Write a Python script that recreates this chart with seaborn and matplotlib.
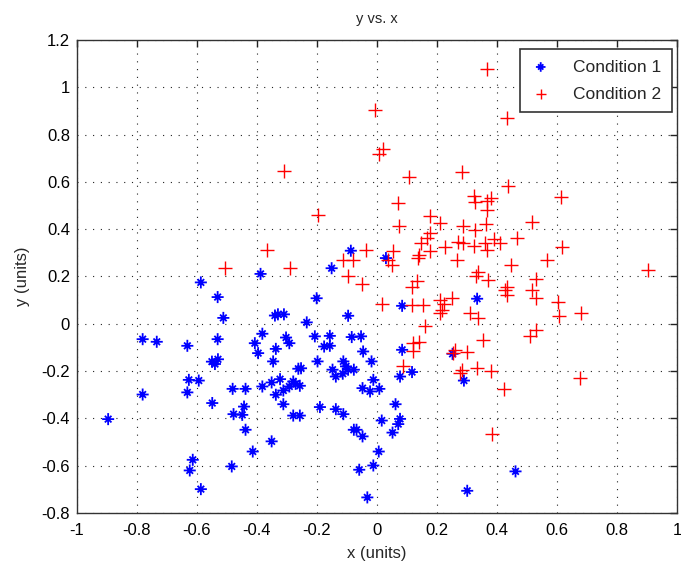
import numpy as np
import pandas as pd
import matplotlib
matplotlib.use("Agg")
import matplotlib.pyplot as plt
from matplotlib.path import Path
import seaborn as sns

# Condition 1 (blue asterisks)
c1_x = [-0.896, -0.781, -0.734, -0.632, -0.531, -0.55, -0.54, -0.53, -0.627, -0.594,
        -0.781, -0.632, -0.549, -0.481, -0.478, -0.614, -0.624, -0.587, -0.484, -0.587,
        -0.531, -0.512, -0.388, -0.087, -0.151, -0.201, 0.03, -0.34, -0.33, -0.31,
        -0.234, -0.096, -0.382, -0.303, -0.207, -0.157, -0.084, -0.053, -0.407, -0.396,
        -0.337, -0.292, -0.346, -0.176, -0.157, -0.046, -0.018, -0.198, -0.262, -0.253,
        -0.148, -0.137, -0.112, -0.103, -0.096, -0.114, -0.077, -0.438, -0.382, -0.351,
        -0.323, -0.337, -0.312, -0.292, -0.279, -0.271, -0.257, -0.312, -0.279, -0.257,
        -0.449, -0.443, -0.438, -0.414, -0.351, -0.19, -0.137, -0.112, -0.077, -0.068,
        -0.048, -0.048, -0.023, -0.012, 0.008, 0.016, 0.006, -0.012, -0.059, -0.032,
        0.084, 0.077, 0.117, 0.062, 0.077, 0.071, 0.052, 0.462, 0.301, 0.29,
        0.252, 0.084, 0.334]
c1_y = [-0.403, -0.065, -0.076, -0.093, -0.065, -0.16, -0.17, -0.15, -0.237, -0.240,
        -0.299, -0.290, -0.335, -0.275, -0.382, -0.575, -0.620, -0.699, -0.603, 0.175,
        0.113, 0.025, 0.211, 0.309, 0.235, 0.108, 0.278, 0.035, 0.04, 0.04,
        0.006, 0.034, -0.042, -0.058, -0.053, -0.051, -0.056, -0.053, -0.082, -0.124,
        -0.106, -0.082, -0.159, -0.096, -0.093, -0.117, -0.159, -0.159, -0.190, -0.188,
        -0.194, -0.223, -0.159, -0.180, -0.194, -0.211, -0.194, -0.275, -0.265, -0.248,
        -0.234, -0.300, -0.282, -0.265, -0.244, -0.254, -0.262, -0.340, -0.388, -0.388,
        -0.385, -0.350, -0.448, -0.540, -0.497, -0.352, -0.361, -0.382, -0.448, -0.448,
        -0.476, -0.272, -0.286, -0.237, -0.275, -0.409, -0.540, -0.599, -0.617, -0.734,
        -0.110, -0.223, -0.204, -0.340, -0.402, -0.424, -0.460, -0.624, -0.706, -0.240,
        -0.127, 0.076, 0.106]

# Condition 2 (red pluses)
c2_x = [-0.507, -0.309, -0.198, -0.368, -0.29, -0.112, -0.081, -0.037, -0.096, -0.049,
        0.016, 0.037, 0.121, 0.141, 0.121, 0.088, 0.26, 0.255, 0.301, 0.354,
        0.282, 0.277, 0.334, 0.38, 0.424, 0.384, 0.071, 0.327, 0.366, 0.366,
        0.177, 0.21, 0.074, 0.288, 0.363, 0.327, 0.177, 0.166, 0.147, 0.271,
        0.288, 0.324, 0.36, 0.366, 0.39, 0.41, 0.466, 0.227, 0.177, 0.141,
        0.136, 0.052, 0.049, 0.266, 0.446, 0.338, 0.33, 0.371, 0.132, 0.116,
        0.432, 0.427, 0.432, 0.116, 0.154, 0.21, 0.223, 0.249, 0.216, 0.21,
        0.31, 0.338, 0.16, 0.366, -0.007, 0.432, 0.019, 0.007, 0.107, 0.283,
        0.436, 0.324, 0.379, 0.612, 0.516, 0.616, 0.566, 0.902, 0.529, 0.516,
        0.529, 0.602, 0.608, 0.68, 0.529, 0.51, 0.677]
c2_y = [0.235, 0.647, 0.458, 0.313, 0.235, 0.271, 0.271, 0.313, 0.204, 0.169,
        0.085, 0.27, -0.082, -0.075, -0.117, -0.180, -0.110, -0.124, -0.120, -0.068,
        -0.194, -0.208, -0.187, -0.201, -0.276, -0.465, 0.510, 0.514, 0.518, 0.480,
        0.454, 0.428, 0.412, 0.412, 0.423, 0.395, 0.383, 0.362, 0.341, 0.344,
        0.341, 0.327, 0.341, 0.313, 0.358, 0.341, 0.362, 0.324, 0.306, 0.292,
        0.278, 0.306, 0.249, 0.271, 0.249, 0.221, 0.200, 0.186, 0.179, 0.155,
        0.157, 0.144, 0.123, 0.080, 0.080, 0.101, 0.085, 0.108, 0.059, 0.045,
        0.045, 0.024, -0.011, 1.077, 0.902, 0.870, 0.739, 0.719, 0.619, 0.641,
        0.583, 0.541, 0.531, 0.535, 0.430, 0.324, 0.271, 0.228, 0.189, 0.141,
        0.111, 0.094, 0.031, 0.045, -0.028, -0.053, -0.230]

labels = ["Condition 1", "Condition 2"]
x_ticks = [-1, -0.8, -0.6, -0.4, -0.2, 0, 0.2, 0.4, 0.6, 0.8, 1]
y_ticks = [-0.8, -0.6, -0.4, -0.2, 0, 0.2, 0.4, 0.6, 0.8, 1, 1.2]

def fmt(v):
    return "%g" % v

df1 = pd.DataFrame({"x": c1_x, "y": c1_y})
df2 = pd.DataFrame({"x": c2_x, "y": c2_y})

# MATLAB-like asterisk: long plus arms, shorter diagonal arms
d = 0.55
asterisk = Path(
    [(-1, 0), (1, 0), (0, -1), (0, 1), (-d, -d), (d, d), (-d, d), (d, -d)],
    [Path.MOVETO, Path.LINETO] * 4,
)

sns.set_theme(style="white")
plt.rcParams["font.family"] = ["Liberation Sans", "DejaVu Sans"]

fig = plt.figure(figsize=(6.81, 5.67), dpi=100)
ax = fig.add_axes([0.113, 0.0952, 0.881, 0.8343])

sns.scatterplot(data=df1, x="x", y="y", ax=ax, marker=asterisk, facecolor="none",
                edgecolor="#0000ff", s=75, linewidth=1.3, label=labels[0], zorder=3)
sns.scatterplot(data=df2, x="x", y="y", ax=ax, marker="+", color="#ff0000",
                s=90, linewidth=1.0, label=labels[1], zorder=4)

ax.set_xlim(-1, 1)
ax.set_ylim(-0.8, 1.2)
ax.set_xticks(x_ticks)
ax.set_yticks(y_ticks)
ax.set_xticklabels([fmt(v) for v in x_ticks], fontsize=12)
ax.set_yticklabels([fmt(v) for v in y_ticks], fontsize=12)
ax.tick_params(axis="both", which="both", direction="in", length=5, width=1,
               top=True, right=True, colors="#222222", labelcolor="black")
ax.tick_params(axis="x", pad=7)
ax.tick_params(axis="y", pad=5)

ax.grid(True, color="#222222", linestyle=(0, (1, 6)), linewidth=0.8)
ax.set_axisbelow(True)
for sp in ax.spines.values():
    sp.set_color("#333333")
    sp.set_linewidth(1.0)
    sp.set_visible(True)

ax.set_xlabel("x (units)", fontsize=12, labelpad=6)
ax.set_ylabel("y (units)", fontsize=12, labelpad=8)
ax.set_title("y vs. x", fontsize=10.5, pad=12)

leg = ax.legend(loc="upper right", bbox_to_anchor=(0.9917, 0.981), borderaxespad=0,
                fontsize=12.5, frameon=True, fancybox=False, markerscale=0.8,
                framealpha=1, edgecolor="#333333",
                handletextpad=1.3, handlelength=1.15, borderpad=0.6, labelspacing=0.7)
leg.get_frame().set_linewidth(1.2)

fig.savefig("out.png", dpi=100, facecolor="white")
